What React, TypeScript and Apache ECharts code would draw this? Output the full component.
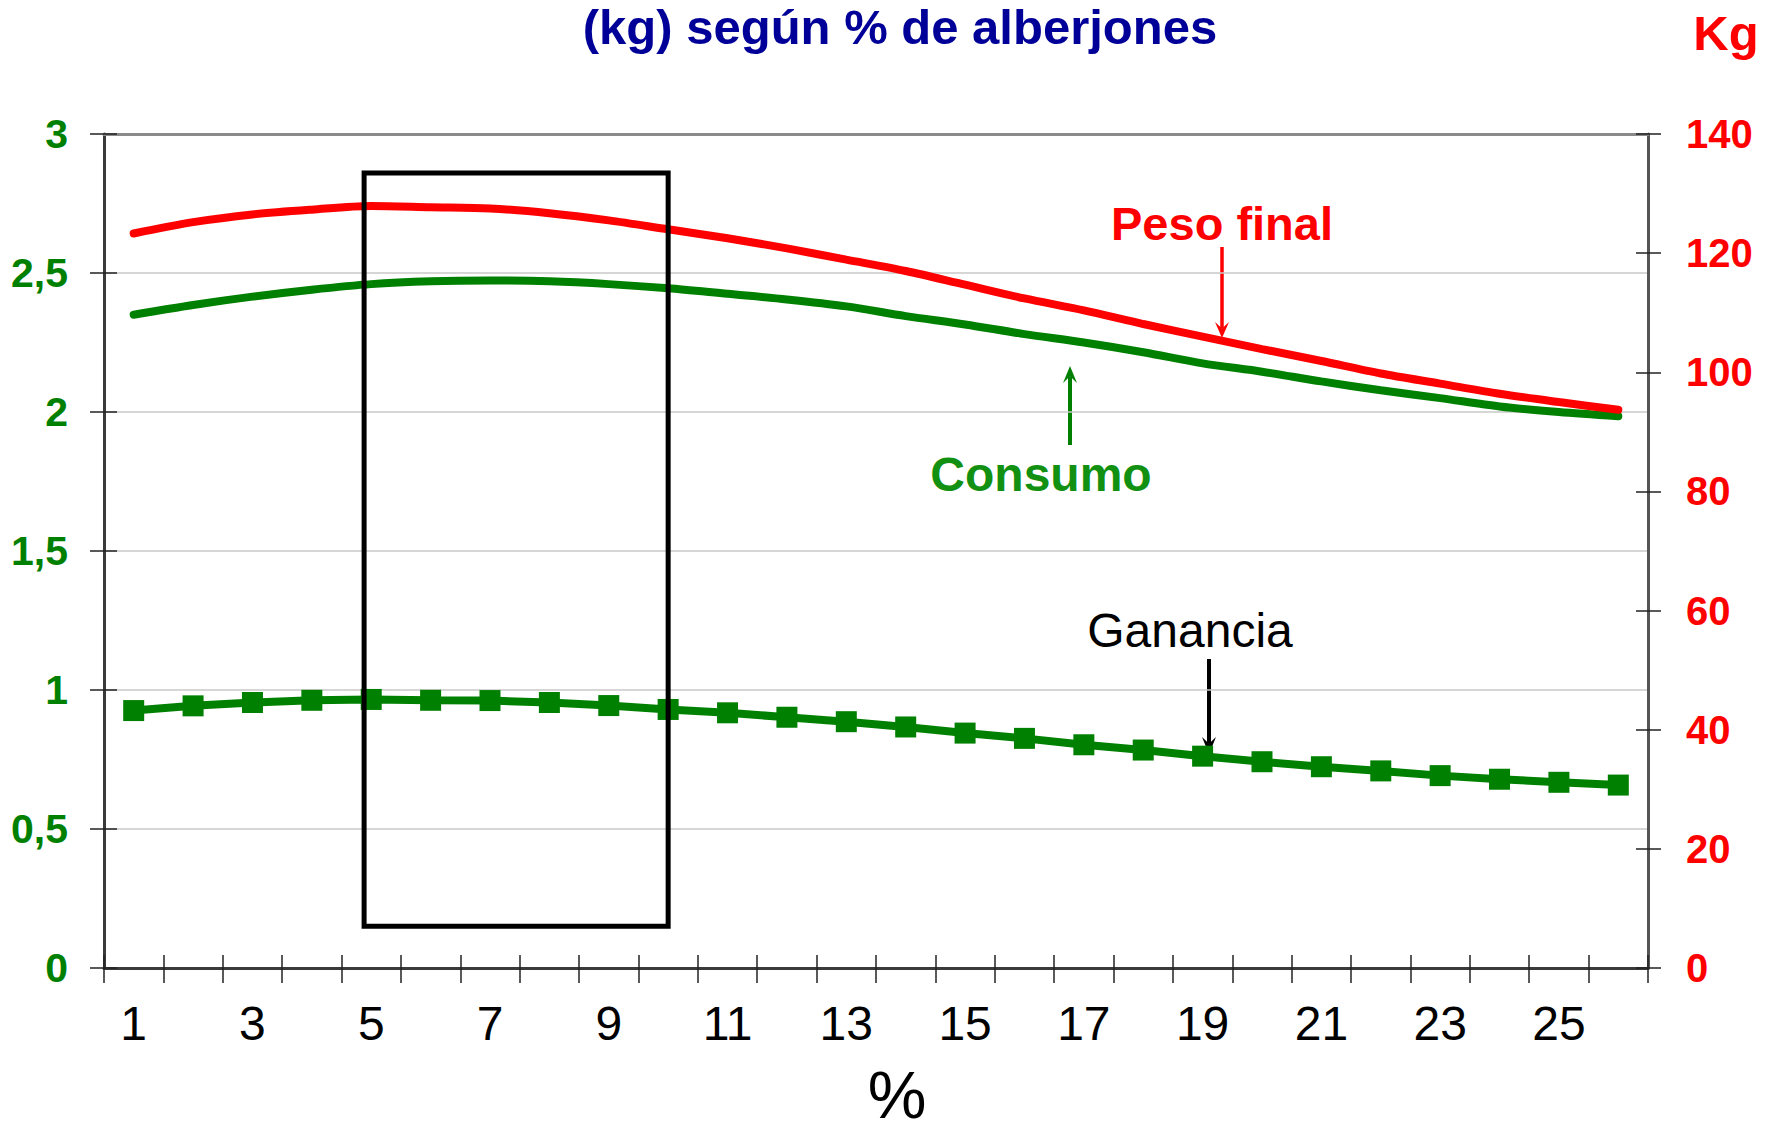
import React, { useEffect, useRef } from "react";
import * as echarts from "echarts";

const categories = ["1", "2", "3", "4", "5", "6", "7", "8", "9", "10", "11", "12", "13", "14", "15", "16", "17", "18", "19", "20", "21", "22", "23", "24", "25", "26"];
const pesoFinal = [123.3, 125.2, 126.5, 127.3, 127.9, 127.7, 127.5, 126.7, 125.5, 124.0, 122.5, 120.8, 118.9, 117.0, 114.7, 112.4, 110.4, 108.1, 106.0, 103.9, 101.9, 99.8, 98.1, 96.4, 95.0, 93.7];
const consumo = [2.35, 2.385, 2.415, 2.44, 2.46, 2.47, 2.473, 2.47, 2.46, 2.445, 2.425, 2.405, 2.38, 2.345, 2.315, 2.28, 2.25, 2.215, 2.175, 2.145, 2.11, 2.078, 2.05, 2.02, 2.0, 1.985];
const ganancia = [0.926, 0.943, 0.955, 0.963, 0.966, 0.963, 0.962, 0.955, 0.944, 0.93, 0.918, 0.902, 0.886, 0.867, 0.845, 0.826, 0.803, 0.784, 0.762, 0.742, 0.724, 0.709, 0.692, 0.679, 0.668, 0.658];
const leftAxisRange = [0, 3, 0.5];
const rightAxisRange = [0, 140, 20];
// highlighted box: from slightly before category "5" to category "10", in left-axis units
const boxRange = { fromCat: "5", fromShift: -0.12, toCat: "10", top: 2.86, bottom: 0.15 };

const titleText = "(kg) según % de alberjones";
const FONT = "'Liberation Sans', Arial, sans-serif";

export default function App() {
  const ref = useRef<HTMLDivElement>(null);
  useEffect(() => {
    if (!ref.current) return;
    const chart = echarts.init(ref.current, null, { renderer: "svg" });
    const grid = { left: 104, right: 125, top: 134, bottom: 166 };
    const axisDark = "#3a3a3a";
    const arrow = (x: number, y1: number, y2: number, color: string, w: number, headLen: number, half: number) => {
      const dir = y2 > y1 ? 1 : -1;
      return [
        { type: "line", shape: { x1: x, y1, x2: x, y2: y2 - dir * headLen * 0.6 }, style: { stroke: color, lineWidth: w } },
        { type: "polygon", shape: { points: [[x, y2], [x - half, y2 - dir * headLen], [x, y2 - dir * headLen * 0.6], [x + half, y2 - dir * headLen]] }, style: { fill: color } },
      ];
    };
    const annotations: any[] = [
      {
        type: "text",
        x: 900,
        y: 27,
        style: { text: titleText, fontSize: 49, fontWeight: "bold", fill: "#000099", align: "center", verticalAlign: "middle", fontFamily: FONT },
      },
      {
        type: "text",
        x: 1726,
        y: 33,
        style: { text: "Kg", fontSize: 49, fontWeight: "bold", fill: "#ff0000", align: "center", verticalAlign: "middle", fontFamily: FONT },
      },
      {
        type: "text",
        x: 897,
        y: 1095,
        style: { text: "%", fontSize: 66, fill: "#000", align: "center", verticalAlign: "middle", fontFamily: FONT },
      },
      {
        type: "text",
        x: 1222,
        y: 223,
        style: { text: "Peso final", fontSize: 47, fontWeight: "bold", fill: "#ff0000", align: "center", verticalAlign: "middle", fontFamily: FONT },
      },
      {
        type: "text",
        x: 1041,
        y: 474,
        style: { text: "Consumo", fontSize: 48, fontWeight: "bold", fill: "#129012", align: "center", verticalAlign: "middle", fontFamily: FONT },
      },
      {
        type: "text",
        x: 1190,
        y: 630,
        style: { text: "Ganancia", fontSize: 48, fill: "#000", align: "center", verticalAlign: "middle", fontFamily: FONT },
      },
      ...arrow(1222, 247, 338, "#ff0000", 3.5, 16, 7),
      ...arrow(1070, 445, 366, "#008000", 4, 17, 7),
      ...arrow(1209, 659, 754, "#000000", 4, 17, 7),
    ];
    chart.setOption({
      animation: false,
      backgroundColor: "#ffffff",
      textStyle: { fontFamily: FONT },
      grid: { ...grid, containLabel: false },
      xAxis: [
        {
          type: "category",
          data: categories,
          position: "bottom",
          boundaryGap: true,
          axisLine: { show: true, onZero: false, lineStyle: { color: axisDark, width: 3 } },
          axisTick: { show: true, interval: 0, length: 15, lineStyle: { color: "#222", width: 1.5 } },
          axisLabel: { interval: 1, margin: 31, fontSize: 48, color: "#000", fontFamily: FONT },
          splitLine: { show: false },
        },
        {
          type: "category",
          data: categories,
          position: "bottom",
          boundaryGap: true,
          axisLine: { show: false, onZero: false },
          axisTick: { show: true, inside: true, interval: 0, length: 13, lineStyle: { color: "#222", width: 1.5 } },
          axisLabel: { show: false },
          splitLine: { show: false },
        },
        {
          type: "category",
          data: categories,
          position: "top",
          boundaryGap: true,
          axisLine: { show: true, onZero: false, lineStyle: { color: "#8a8a8a", width: 3 } },
          axisTick: { show: false },
          axisLabel: { show: false },
          splitLine: { show: false },
        },
      ],
      yAxis: [
        {
          type: "value",
          position: "left",
          min: leftAxisRange[0],
          max: leftAxisRange[1],
          interval: leftAxisRange[2],
          axisLine: { show: true, onZero: false, lineStyle: { color: axisDark, width: 3 } },
          axisTick: { show: true, length: 14, lineStyle: { color: "#222", width: 1.5 } },
          axisLabel: {
            margin: 36,
            fontSize: 41,
            fontWeight: "bold",
            color: "#008000",
            fontFamily: FONT,
            formatter: (v: number) => String(v).replace(".", ","),
          },
          splitLine: { show: true, lineStyle: { color: "#c8c8c8", width: 1.5 } },
        },
        {
          type: "value",
          position: "right",
          min: rightAxisRange[0],
          max: rightAxisRange[1],
          interval: rightAxisRange[2],
          axisLine: { show: true, onZero: false, lineStyle: { color: "#555", width: 3 } },
          axisTick: { show: true, length: 13, lineStyle: { color: "#222", width: 1.5 } },
          axisLabel: { margin: 38, fontSize: 40, fontWeight: "bold", color: "#ff0000", fontFamily: FONT },
          splitLine: { show: false },
        },
        {
          type: "value",
          position: "left",
          min: leftAxisRange[0],
          max: leftAxisRange[1],
          interval: leftAxisRange[2],
          axisLine: { show: false },
          axisTick: { show: true, inside: true, length: 13, lineStyle: { color: "#222", width: 1.5 } },
          axisLabel: { show: false },
          splitLine: { show: false },
        },
        {
          type: "value",
          position: "right",
          min: rightAxisRange[0],
          max: rightAxisRange[1],
          interval: rightAxisRange[2],
          axisLine: { show: false },
          axisTick: { show: true, inside: true, length: 12, lineStyle: { color: "#222", width: 1.5 } },
          axisLabel: { show: false },
          splitLine: { show: false },
        },
      ],
      series: [
        {
          name: "Consumo",
          type: "line",
          xAxisIndex: 0,
          yAxisIndex: 0,
          data: consumo,
          smooth: 0.3,
          showSymbol: false,
          symbol: "none",
          lineStyle: { color: "#008000", width: 8, cap: "round" },
          z: 3,
        },
        {
          name: "Peso final",
          type: "line",
          xAxisIndex: 0,
          yAxisIndex: 1,
          data: pesoFinal,
          smooth: 0.3,
          showSymbol: false,
          symbol: "none",
          lineStyle: { color: "#ff0000", width: 8, cap: "round" },
          z: 3,
        },
        {
          name: "Ganancia",
          type: "line",
          xAxisIndex: 0,
          yAxisIndex: 0,
          data: ganancia,
          symbol: "rect",
          symbolSize: 21,
          itemStyle: { color: "#008000" },
          lineStyle: { color: "#008000", width: 8 },
          z: 3,
        },
      ],
      graphic: annotations,
    });

    // box placed through the axes' own scales
    const fromIdx = categories.indexOf(boxRange.fromCat);
    const xFrom = chart.convertToPixel({ xAxisIndex: 0 }, categories[fromIdx]) as number;
    const xNext = chart.convertToPixel({ xAxisIndex: 0 }, categories[fromIdx + 1]) as number;
    const band = xNext - xFrom;
    const x1 = xFrom + boxRange.fromShift * band;
    const x2 = chart.convertToPixel({ xAxisIndex: 0 }, boxRange.toCat) as number;
    const y1 = chart.convertToPixel({ yAxisIndex: 0 }, boxRange.top) as number;
    const y2 = chart.convertToPixel({ yAxisIndex: 0 }, boxRange.bottom) as number;
    chart.setOption({
      graphic: [
        ...annotations,
        {
          type: "rect",
          z: 10,
          shape: { x: x1, y: y1, width: x2 - x1, height: y2 - y1 },
          style: { fill: "none", stroke: "#000", lineWidth: 5 },
        },
      ],
    });
    return () => chart.dispose();
  }, []);
  return <div ref={ref} style={{ position: "absolute", left: 0, top: 0, width: 1773, height: 1134 }} />;
}
